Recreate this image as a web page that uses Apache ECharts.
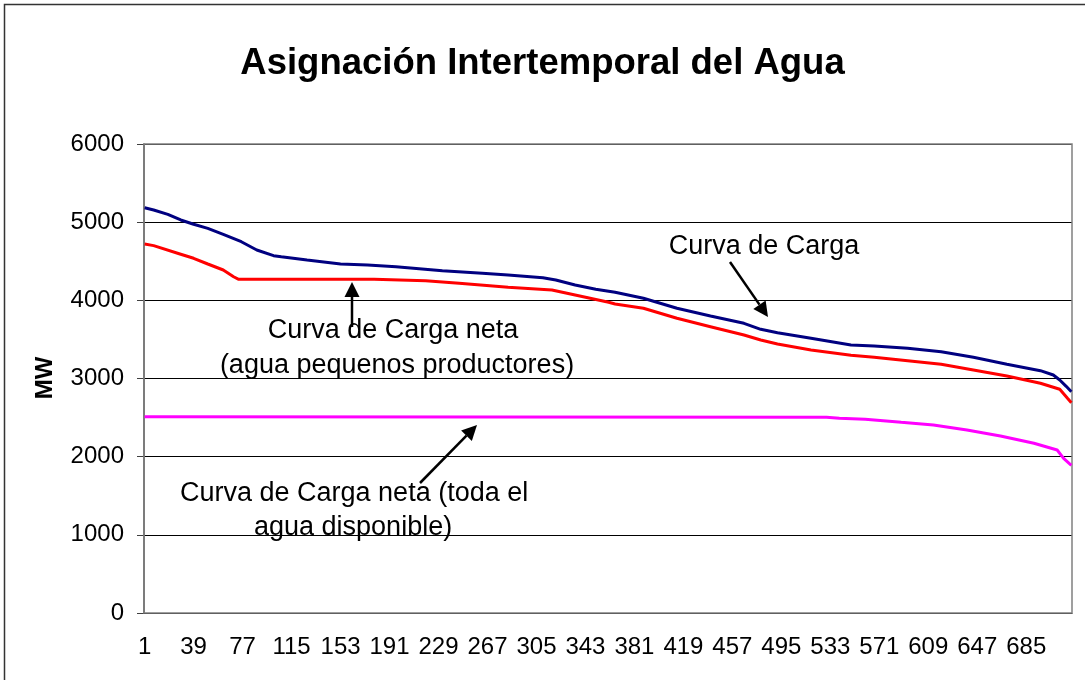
<!DOCTYPE html>
<html>
<head>
<meta charset="utf-8">
<title>Asignación Intertemporal del Agua</title>
<script src="https://cdn.jsdelivr.net/npm/echarts@6/dist/echarts.min.js"></script>
<style>
  html, body { margin: 0; padding: 0; background: #fff; }
  #main { width: 1085px; height: 680px; }
</style>
</head>
<body>
<div id="main"></div>
<script>
// horas 1..720 del mes (eje de categorias)
const horas = []
for (let h = 1; h <= 720; h++) horas.push(String(h))

// Curva de Carga (azul)
const cargaHora = [1, 8, 19, 29, 39, 50, 62, 76, 88, 101, 107, 127, 153, 174, 196, 232, 263, 283, 310, 320, 335, 351, 366, 388, 414, 440, 466, 479, 492, 518, 549, 567, 593, 619, 644, 670, 696, 706, 711, 716, 720]
const cargaMW = [5185, 5155, 5100, 5028, 4973, 4921, 4845, 4750, 4644, 4571, 4558, 4516, 4465, 4452, 4431, 4379, 4346, 4324, 4290, 4260, 4196, 4141, 4103, 4026, 3898, 3800, 3706, 3629, 3586, 3514, 3428, 3416, 3386, 3343, 3271, 3182, 3100, 3045, 2981, 2900, 2831]

// Curva de Carga neta (agua pequenos productores) - rojo
const netaPeqHora = [1, 8, 29, 39, 50, 62, 70, 74, 179, 219, 245, 283, 317, 335, 361, 366, 388, 414, 440, 466, 479, 492, 518, 549, 567, 593, 619, 644, 670, 696, 711, 717, 720]
const netaPeqMW = [4720, 4700, 4590, 4538, 4465, 4388, 4302, 4269, 4269, 4251, 4218, 4167, 4132, 4068, 3975, 3953, 3898, 3770, 3663, 3556, 3492, 3441, 3365, 3297, 3271, 3228, 3182, 3109, 3032, 2939, 2862, 2747, 2690]

// Curva de Carga neta (toda el agua disponible) - magenta
const netaTodaHora = [1, 530, 540, 560, 588, 613, 639, 665, 691, 709, 714, 720]
const netaTodaMW = [2510, 2505, 2490, 2480, 2440, 2405, 2341, 2264, 2171, 2085, 1979, 1890]

const yTicks = [0, 1000, 2000, 3000, 4000, 5000, 6000]

const FONT = '"Liberation Sans", Arial, sans-serif'

function pares(hs, vs) {
  return hs.map((h, i) => [h - 1, vs[i]])
}

// flecha: linea + punta triangular
function flecha(x1, y1, x2, y2) {
  const ang = Math.atan2(y2 - y1, x2 - x1)
  const L = 15, W = 7.5
  const bx = x2 - L * Math.cos(ang), by = y2 - L * Math.sin(ang)
  const px = -Math.sin(ang) * W, py = Math.cos(ang) * W
  return [
    { type: 'line', shape: { x1: x1, y1: y1, x2: bx, y2: by }, style: { stroke: '#000', lineWidth: 2.5 }, z: 100 },
    { type: 'polygon', shape: { points: [[x2, y2], [bx + px, by + py], [bx - px, by - py]] }, style: { fill: '#000' }, z: 100 }
  ]
}

function texto(t, x, y, align) {
  return {
    type: 'text', x: x, y: y, z: 100,
    style: { text: t, font: '27px ' + FONT, fill: '#000', align: align || 'center', verticalAlign: 'middle' }
  }
}

let myChart = echarts.init(document.getElementById('main'))

myChart.setOption({
  animation: false,
  backgroundColor: '#fff',
  title: {
    text: 'Asignación Intertemporal del Agua',
    left: 'center',
    top: 45,
    padding: 0,
    textStyle: { fontFamily: FONT, fontSize: 36.5, fontWeight: 'bold', color: '#000' }
  },
  grid: { left: 144, right: 13, top: 144, bottom: 67 },
  xAxis: {
    type: 'category',
    data: horas,
    boundaryGap: true,
    axisLine: { lineStyle: { color: '#000', width: 1 } },
    axisTick: { interval: 0, length: 5, lineStyle: { color: '#000', width: 1 } },
    axisLabel: { interval: 37, margin: 22, color: '#000', fontFamily: FONT, fontSize: 24 },
    splitLine: { show: false }
  },
  yAxis: {
    type: 'value',
    min: yTicks[0],
    max: yTicks[yTicks.length - 1],
    interval: 1000,
    axisLine: { show: true, lineStyle: { color: '#404040', width: 1.5 } },
    axisTick: { show: true, inside: false, length: 7, lineStyle: { color: '#404040' } },
    axisLabel: { margin: 20, color: '#000', fontFamily: FONT, fontSize: 24, formatter: v => String(v) },
    splitLine: { show: true, lineStyle: { color: '#000', width: 1 } }
  },
  series: [
    {
      name: 'Curva de Carga',
      type: 'line',
      data: pares(cargaHora, cargaMW),
      showSymbol: false,
      lineStyle: { color: '#000080', width: 3 },
      itemStyle: { color: '#000080' },
      z: 4
    },
    {
      name: 'Curva de Carga neta (agua pequenos productores)',
      type: 'line',
      data: pares(netaPeqHora, netaPeqMW),
      showSymbol: false,
      lineStyle: { color: '#ff0000', width: 3 },
      itemStyle: { color: '#ff0000' },
      z: 3
    },
    {
      name: 'Curva de Carga neta (toda el agua disponible)',
      type: 'line',
      data: pares(netaTodaHora, netaTodaMW),
      showSymbol: false,
      lineStyle: { color: '#ff00ff', width: 3 },
      itemStyle: { color: '#ff00ff' },
      z: 2
    }
  ],
  graphic: [
    // borde exterior del grafico
    { type: 'rect', shape: { x: 4.5, y: 4.5, width: 1200, height: 900 }, style: { fill: null, stroke: '#333', lineWidth: 1.5 }, z: 0, silent: true },
    // borde del area de trazado (gris)
    { type: 'rect', shape: { x: 144, y: 144, width: 928, height: 469 }, style: { fill: null, stroke: '#808080', lineWidth: 1.5 }, z: 1, silent: true },
    {
      type: 'text', x: 45, y: 378, rotation: Math.PI / 2, z: 100,
      style: { text: 'MW', font: 'bold 24px ' + FONT, fill: '#000', align: 'center', verticalAlign: 'middle' }
    },
    texto('Curva de Carga', 764, 247),
    texto('Curva de Carga neta', 393, 331),
    texto('(agua pequenos productores)', 397, 366),
    texto('Curva de Carga neta (toda el', 180, 494, 'left'),
    texto('agua disponible)', 254, 528, 'left')
  ].concat(
    flecha(730, 262, 768, 317),
    flecha(352, 327, 352, 282),
    flecha(420, 483, 477, 425)
  )
})
</script>
</body>
</html>
